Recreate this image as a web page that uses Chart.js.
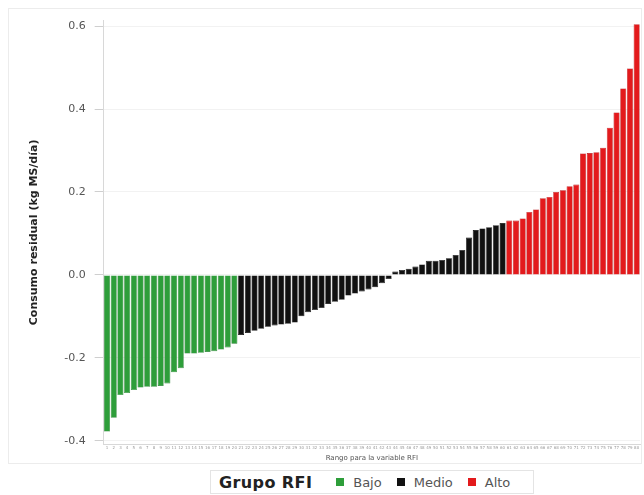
<!DOCTYPE html>
<html>
<head>
<meta charset="utf-8">
<script src="https://cdn.jsdelivr.net/npm/chart.js@4"></script>
<style>
    body { margin: 0; background: #fff; font-family: "DejaVu Sans", sans-serif; }
    #wrap { position: relative; width: 644px; height: 495px; }
    #frame { position: absolute; left: 8px; top: 8px; width: 634px; height: 456px; border: 1px solid #ececec; box-sizing: border-box; }
    #chartBox { position: absolute; left: 0; top: 0; width: 644px; height: 462px; }
    #legend { position: absolute; left: 210px; top: 470px; width: 324px; height: 24px; border: 1px solid #e4e4e4;
              box-sizing: border-box; display: flex; align-items: center; font-size: 13px; color: #555; }
    #legend .title { font-weight: bold; font-size: 16px; letter-spacing: 0.4px; color: #222; margin: 0 24px 0 8px; }
    #legend .sw { display: inline-block; width: 8px; height: 8px; margin: 0 9px 0 0; }
    #legend .it { margin-right: 15px; display: flex; align-items: center; }
</style>
</head>
<body>
<div id="wrap">
    <div id="frame"></div>
    <div id="chartBox"><canvas id="chart"></canvas></div>
    <div id="legend">
        <span class="title">Grupo RFI</span>
        <span class="it"><span class="sw" style="background:#2e9e3a"></span>Bajo</span>
        <span class="it"><span class="sw" style="background:#111"></span>Medio</span>
        <span class="it"><span class="sw" style="background:#e31a1c"></span>Alto</span>
    </div>
</div>
<script>
// RFI residual values, sorted, per group
const bajo = [-0.378, -0.345, -0.29, -0.285, -0.278, -0.272, -0.27, -0.27, -0.268, -0.262,
    -0.235, -0.225, -0.19, -0.19, -0.188, -0.186, -0.184, -0.18, -0.175, -0.166];
const medio = [-0.145, -0.14, -0.135, -0.13, -0.125, -0.122, -0.12, -0.118, -0.115, -0.1,
    -0.09, -0.085, -0.08, -0.07, -0.065, -0.06, -0.05, -0.045, -0.04, -0.035,
    -0.03, -0.02, -0.01, 0.008, 0.012, 0.015, 0.02, 0.025, 0.034, 0.034,
    0.036, 0.04, 0.048, 0.06, 0.09, 0.108, 0.112, 0.115, 0.12, 0.125];
const alto = [0.131, 0.131, 0.136, 0.152, 0.158, 0.185, 0.188, 0.2, 0.204, 0.214,
    0.218, 0.293, 0.294, 0.296, 0.307, 0.355, 0.392, 0.45, 0.498, 0.605];
const animalIds = [];
for (let i = 1; i <= bajo.length + medio.length + alto.length; i++) animalIds.push(String(i));
const yTicks = [-0.4, -0.2, 0.0, 0.2, 0.4, 0.6];

const groupColors = {bajo: '#2e9e3a', medio: '#111111', alto: '#e31a1c'};
const groupBorders = {bajo: '#1d7a28', medio: '#000000', alto: '#b30f10'};

const values = bajo.concat(medio, alto);
const fills = [], borders = [];
values.forEach((v, i) => {
    const g = i < bajo.length ? 'bajo' : (i < bajo.length + medio.length ? 'medio' : 'alto');
    fills.push(groupColors[g]);
    borders.push(groupBorders[g]);
});

Chart.defaults.font.family = '"DejaVu Sans", sans-serif';

new Chart(document.getElementById('chart'), {
    type: 'bar',
    data: {
        labels: animalIds,
        datasets: [{
            data: values,
            backgroundColor: fills,
            borderColor: borders,
            borderWidth: 0.6,
            barPercentage: 0.9,
            categoryPercentage: 1.0
        }]
    },
    options: {
        animation: false,
        responsive: true,
        maintainAspectRatio: false,
        layout: {padding: {left: 24, right: 4, top: 20, bottom: 0}},
        plugins: {legend: {display: false}, tooltip: {enabled: false}},
        scales: {
            x: {
                offset: true,
                grid: {display: false, drawTicks: false, offset: true},
                border: {color: '#d8d8d8'},
                ticks: {font: {size: 4}, color: '#999', maxRotation: 0, minRotation: 0, autoSkip: false, padding: 1},
                title: {display: true, text: 'Rango para la variable RFI', font: {size: 7}, color: '#555', padding: {top: 2, bottom: 0}}
            },
            y: {
                min: -0.41,
                max: 0.615,
                afterBuildTicks: axis => { axis.ticks = yTicks.map(v => ({value: v})); },
                grid: {color: '#f2f2f2', drawTicks: true, tickLength: 9, tickColor: '#cfcfcf'},
                border: {color: '#d8d8d8'},
                ticks: {font: {size: 11}, color: '#555', padding: 9, callback: v => v.toFixed(1)},
                title: {display: true, text: 'Consumo residual (kg MS/día)', font: {size: 11, weight: 'bold'}, color: '#222', padding: {bottom: 14}}
            }
        }
    }
});
</script>
</body>
</html>
